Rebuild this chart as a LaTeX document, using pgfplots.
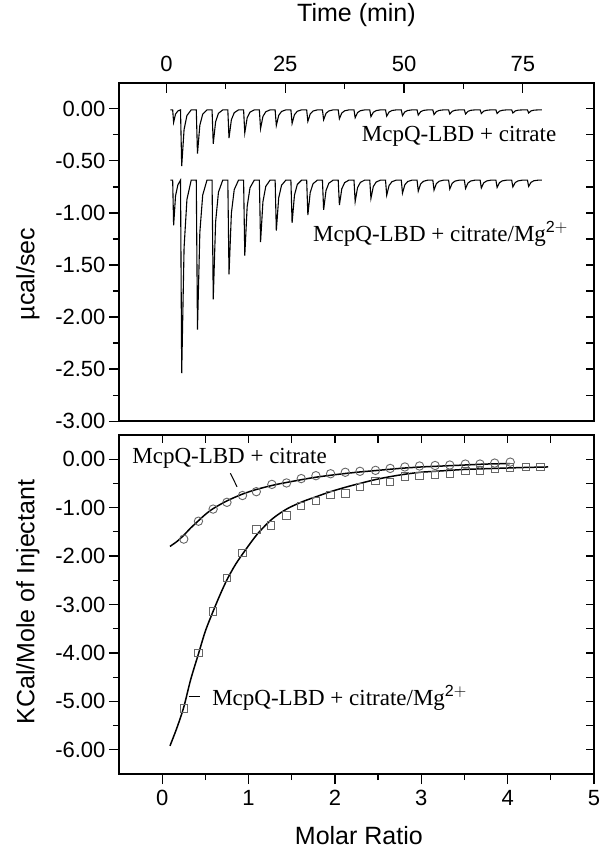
\documentclass[border=0pt]{standalone}
\usepackage{pgfplots}
\pgfplotsset{compat=1.18}
\usepackage{fontspec}
\setmainfont{Liberation Sans}
\newfontfamily\tnr{Liberation Serif}
\pgfplotsset{
 myax/.style={
  scale only axis, width=475pt, clip=false,
  axis line style={line width=1.5pt},
  tick style={line width=1.2pt,black},
  major tick length=10pt, minor tick length=6pt,
  ticklabel style={font=\fontsize{22}{22}\selectfont},
  label style={font=\fontsize{25}{25}\selectfont},
 },
}
\tikzset{annot/.style={font=\tnr\fontsize{23}{23}\selectfont, inner sep=0pt}}
\begin{document}
\begin{tikzpicture}[x=1pt,y=1pt]
\useasboundingbox (-119,-78) rectangle (482,774);
% ---------- top panel ----------
\begin{axis}[myax, at={(0,339)}, anchor=south west, height=338.3pt,
  xmin=-10, xmax=90, ymin=-3, ymax=0.25,
  xtick pos=right, xticklabel pos=right, xtick align=inside,
  xticklabel shift=8pt,
  xtick={0,25,50,75}, xticklabels={0,25,50,75}, minor x tick num=1,
  ytick pos=left, ytick align=outside,
  ytick={-3,-2.5,-2,-1.5,-1,-0.5,0},
  yticklabels={-3.00,-2.50,-2.00,-1.50,-1.00,-0.50,0.00}, minor y tick num=1,
  xlabel={Time (min)}, ylabel={µcal/sec},
  xlabel style={at={(axis description cs:0.5,1.2007)}, anchor=center},
  ylabel style={at={(axis description cs:-0.1916,0.4345)}, anchor=center},
]
\addplot[black, line width=1.1pt] coordinates {
(0.8,-0.01)(1.3,-0.01)(1.5,-0.13)(1.9,-0.05)(2.4,-0.02)
(2.95,-0.01)(3.2,-0.55)(3.7,-0.199)(4.3,-0.064)(5.2,-0.01)
(6.27,-0.01)(6.52,-0.43)(7.02,-0.157)(7.62,-0.052)(8.52,-0.01)
(9.59,-0.01)(9.84,-0.335)(10.34,-0.124)(10.94,-0.043)(11.84,-0.01)
(12.91,-0.01)(13.16,-0.28)(13.66,-0.105)(14.26,-0.037)(15.16,-0.01)
(16.23,-0.01)(16.48,-0.23)(16.98,-0.087)(17.58,-0.032)(18.48,-0.01)
(19.55,-0.01)(19.8,-0.19)(20.3,-0.073)(20.9,-0.028)(21.8,-0.01)
(22.87,-0.01)(23.12,-0.16)(23.62,-0.063)(24.22,-0.025)(25.12,-0.01)
(26.19,-0.01)(26.44,-0.14)(26.94,-0.056)(27.54,-0.023)(28.44,-0.01)
(29.51,-0.01)(29.76,-0.12)(30.26,-0.049)(30.86,-0.021)(31.76,-0.01)
(32.83,-0.01)(33.08,-0.105)(33.58,-0.043)(34.18,-0.02)(35.08,-0.01)
(36.15,-0.01)(36.4,-0.095)(36.9,-0.04)(37.5,-0.019)(38.4,-0.01)
(39.47,-0.01)(39.72,-0.085)(40.22,-0.036)(40.82,-0.018)(41.72,-0.01)
(42.79,-0.01)(43.04,-0.075)(43.54,-0.033)(44.14,-0.017)(45.04,-0.01)
(46.11,-0.01)(46.36,-0.07)(46.86,-0.031)(47.46,-0.016)(48.36,-0.01)
(49.43,-0.01)(49.68,-0.065)(50.18,-0.029)(50.78,-0.016)(51.68,-0.01)
(52.75,-0.01)(53.0,-0.06)(53.5,-0.028)(54.1,-0.015)(55.0,-0.01)
(56.07,-0.01)(56.32,-0.055)(56.82,-0.026)(57.42,-0.015)(58.32,-0.01)
(59.39,-0.01)(59.64,-0.05)(60.14,-0.024)(60.74,-0.014)(61.64,-0.01)
(62.71,-0.01)(62.96,-0.05)(63.46,-0.024)(64.06,-0.014)(64.96,-0.01)
(66.03,-0.01)(66.28,-0.045)(66.78,-0.022)(67.38,-0.014)(68.28,-0.01)
(69.35,-0.01)(69.6,-0.045)(70.1,-0.022)(70.7,-0.014)(71.6,-0.01)
(72.67,-0.01)(72.92,-0.04)(73.42,-0.02)(74.02,-0.013)(74.92,-0.01)
(75.99,-0.01)(76.24,-0.04)(76.74,-0.02)(77.34,-0.013)(78.24,-0.01)
(79.0,-0.01)};
\addplot[black, line width=1.1pt] coordinates {
(0.8,-0.685)(1.3,-0.685)(1.5,-1.12)(1.9,-0.837)(2.4,-0.729)
(2.95,-0.685)(3.2,-2.54)(3.7,-1.334)(4.3,-0.871)(5.2,-0.685)
(6.27,-0.685)(6.52,-2.12)(7.02,-1.187)(7.62,-0.829)(8.52,-0.685)
(9.59,-0.685)(9.84,-1.83)(10.34,-1.086)(10.94,-0.80)(11.84,-0.685)
(12.91,-0.685)(13.16,-1.59)(13.66,-1.002)(14.26,-0.776)(15.16,-0.685)
(16.23,-0.685)(16.48,-1.41)(16.98,-0.939)(17.58,-0.758)(18.48,-0.685)
(19.55,-0.685)(19.8,-1.28)(20.3,-0.893)(20.9,-0.745)(21.8,-0.685)
(22.87,-0.685)(23.12,-1.17)(23.62,-0.855)(24.22,-0.734)(25.12,-0.685)
(26.19,-0.685)(26.44,-1.095)(26.94,-0.829)(27.54,-0.726)(28.44,-0.685)
(29.51,-0.685)(29.76,-1.02)(30.26,-0.802)(30.86,-0.719)(31.76,-0.685)
(32.83,-0.685)(33.08,-0.97)(33.58,-0.785)(34.18,-0.714)(35.08,-0.685)
(36.15,-0.685)(36.4,-0.925)(36.9,-0.769)(37.5,-0.709)(38.4,-0.685)
(39.47,-0.685)(39.72,-0.89)(40.22,-0.757)(40.82,-0.706)(41.72,-0.685)
(42.79,-0.685)(43.04,-0.86)(43.54,-0.746)(44.14,-0.703)(45.04,-0.685)
(46.11,-0.685)(46.36,-0.83)(46.86,-0.736)(47.46,-0.70)(48.36,-0.685)
(49.43,-0.685)(49.68,-0.81)(50.18,-0.729)(50.78,-0.698)(51.68,-0.685)
(52.75,-0.685)(53.0,-0.79)(53.5,-0.722)(54.1,-0.696)(55.0,-0.685)
(56.07,-0.685)(56.32,-0.78)(56.82,-0.718)(57.42,-0.695)(58.32,-0.685)
(59.39,-0.685)(59.64,-0.77)(60.14,-0.715)(60.74,-0.694)(61.64,-0.685)
(62.71,-0.685)(62.96,-0.765)(63.46,-0.713)(64.06,-0.693)(64.96,-0.685)
(66.03,-0.685)(66.28,-0.76)(66.78,-0.711)(67.38,-0.693)(68.28,-0.685)
(69.35,-0.685)(69.6,-0.755)(70.1,-0.709)(70.7,-0.692)(71.6,-0.685)
(72.67,-0.685)(72.92,-0.75)(73.42,-0.708)(74.02,-0.692)(74.92,-0.685)
(75.99,-0.685)(76.24,-0.745)(76.74,-0.706)(77.34,-0.691)(78.24,-0.685)
(79.0,-0.685)};
\node[annot, anchor=base west] at (axis cs:41.1,-0.311) {McpQ-LBD + citrate};
\node[annot, anchor=base west] at (axis cs:30.85,-1.277) {McpQ-LBD + citrate/Mg$^{\mathrm{2+}}$};
\end{axis}
\begin{axis}[myax, at={(0,339)}, anchor=south west, height=338.3pt,
  xmin=-10, xmax=90, ymin=-3, ymax=0.25,
  xtick=\empty, ytick pos=right, ytick align=inside,
  ytick={-3,-2.75,...,0.1}, yticklabels={}, major tick length=8pt]
\end{axis}
% ---------- bottom panel ----------
\begin{axis}[myax, at={(0,0)}, anchor=south west, height=339pt,
  xmin=-0.5, xmax=5, ymin=-6.5, ymax=0.5,
  xtick pos=left, xtick align=outside, xticklabel shift=2.5pt,
  xtick={0,1,2,3,4,5}, xticklabels={0,1,2,3,4,5}, minor x tick num=1,
  ytick pos=left, ytick align=outside,
  ytick={-6,-5,-4,-3,-2,-1,0},
  yticklabels={-6.00,-5.00,-4.00,-3.00,-2.00,-1.00,0.00}, minor y tick num=1,
  xlabel={Molar Ratio}, ylabel={KCal/Mole of Injectant},
  xlabel style={at={(axis description cs:0.505,-0.183)}, anchor=center},
  ylabel style={at={(axis description cs:-0.1916,0.507)}, anchor=center},
]
\addplot[only marks, mark=o, mark size=4.2pt, black!60, mark options={line width=0.9pt}] coordinates {
(0.25,-1.65)(0.42,-1.28)(0.59,-1.03)(0.75,-0.89)(0.93,-0.75)(1.09,-0.67)(1.27,-0.52)(1.44,-0.49)(1.61,-0.40)(1.78,-0.34)(1.95,-0.30)(2.12,-0.27)(2.29,-0.25)(2.47,-0.23)(2.64,-0.19)(2.81,-0.16)(2.98,-0.14)(3.16,-0.13)(3.33,-0.12)(3.51,-0.10)(3.68,-0.10)(3.85,-0.08)(4.03,-0.06)};
\addplot[only marks, mark=square, mark size=3.7pt, black!60, mark options={line width=0.9pt}] coordinates {
(0.25,-5.15)(0.42,-4.0)(0.59,-3.14)(0.75,-2.45)(0.93,-1.94)(1.09,-1.45)(1.26,-1.37)(1.44,-1.16)(1.61,-0.97)(1.78,-0.86)(1.95,-0.74)(2.12,-0.71)(2.29,-0.57)(2.47,-0.45)(2.64,-0.47)(2.81,-0.36)(2.98,-0.35)(3.16,-0.32)(3.33,-0.29)(3.51,-0.24)(3.68,-0.23)(3.85,-0.19)(4.03,-0.17)(4.21,-0.16)(4.38,-0.16)};
\addplot[black, line width=1.5pt, smooth] coordinates {
(0.09,-1.80)(0.17,-1.70)(0.25,-1.57)(0.33,-1.42)(0.42,-1.27)(0.5,-1.14)(0.59,-1.02)(0.75,-0.86)(0.93,-0.72)(1.1,-0.62)(1.3,-0.53)(1.5,-0.46)(1.75,-0.38)(2.0,-0.32)(2.25,-0.27)(2.5,-0.23)(2.75,-0.19)(3.0,-0.16)(3.25,-0.14)(3.5,-0.12)(3.75,-0.10)(4.03,-0.09)};
\addplot[black, line width=1.5pt, smooth] coordinates {
(0.09,-5.92)(0.17,-5.55)(0.25,-5.12)(0.33,-4.55)(0.42,-4.02)(0.5,-3.55)(0.59,-3.14)(0.67,-2.8)(0.75,-2.49)(0.84,-2.2)(0.93,-1.96)(1.1,-1.55)(1.27,-1.24)(1.44,-1.03)(1.62,-0.88)(1.79,-0.77)(1.95,-0.67)(2.14,-0.57)(2.29,-0.50)(2.47,-0.42)(2.64,-0.36)(2.81,-0.31)(2.99,-0.27)(3.16,-0.25)(3.33,-0.23)(3.51,-0.21)(3.68,-0.20)(3.85,-0.19)(4.03,-0.18)(4.21,-0.17)(4.47,-0.16)};
\node[annot, anchor=base west] at (axis cs:-0.347,-0.09) {McpQ-LBD + citrate};
\draw[line width=1pt] (axis cs:0.79,-0.29) -- (axis cs:0.867,-0.57);
\node[annot, anchor=base west] at (axis cs:0.578,-5.08) {McpQ-LBD + citrate/Mg$^{\mathrm{2+}}$};
\draw[line width=1pt] (axis cs:0.307,-4.91) -- (axis cs:0.442,-4.91);
\end{axis}
\begin{axis}[myax, at={(0,0)}, anchor=south west, height=339pt,
  xmin=-0.5, xmax=5, ymin=-6.5, ymax=0.5,
  xtick pos=right, xtick align=inside, xtick={-0.5,0,...,5}, xticklabels={},
  ytick pos=right, ytick align=inside, ytick={-6.5,-6,...,0.5}, yticklabels={},
  major tick length=8pt]
\end{axis}
\end{tikzpicture}
\end{document}
